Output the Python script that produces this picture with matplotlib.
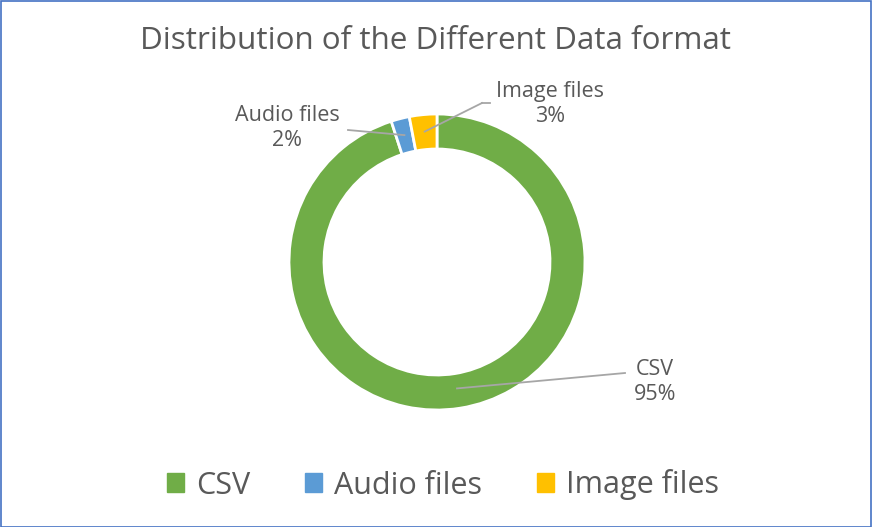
import numpy as np
import matplotlib
matplotlib.use("Agg")
import matplotlib.pyplot as plt
from matplotlib.patches import Rectangle

labels = ["CSV", "Audio files", "Image files"]
shares = [95, 2, 3]
colors = ["#70AD47", "#5B9BD5", "#FFC000"]
title = "Distribution of the Different Data format"

plt.rcParams["font.family"] = ["Open Sans", "DejaVu Sans"]
txt = "#595959"

W, H = 872, 527
fig = plt.figure(figsize=(W / 100, H / 100), dpi=100)
ax = fig.add_axes([0, 0, 1, 1])

cx, cy, r = 437, H - 262, 148
wedges, _ = ax.pie(shares, colors=colors, startangle=90, counterclock=False,
                   center=(cx, cy), radius=r, frame=True,
                   wedgeprops=dict(width=35, edgecolor="white", linewidth=2))
ax.set_xlim(0, W)
ax.set_ylim(0, H)
ax.set_aspect("equal")
ax.axis("off")

# data labels with leader lines (label box positions in pixels)
label_pos = {"CSV": (655, H - 382), "Audio files": (287, H - 128),
             "Image files": (550, H - 104)}
elbow = {"CSV": (625, H - 373), "Audio files": (348, H - 130),
         "Image files": (482, H - 103)}
for w, lab, s in zip(wedges, labels, shares):
    ang = np.deg2rad((w.theta1 + w.theta2) / 2)
    rr = r - 17 if lab != "CSV" else r - 20
    px, py = cx + rr * np.cos(ang), cy + rr * np.sin(ang)
    ex, ey = elbow[lab]
    ax.plot([px, ex], [py, ey], color="#A6A6A6", lw=1.3)
    if lab == "Image files":
        ax.plot([ex, ex + 8], [ey, ey], color="#A6A6A6", lw=1.3)
    tx, ty = label_pos[lab]
    ax.text(tx, ty, f"{lab}\n{s}%", ha="center", va="center",
            fontsize=15.5, color=txt, linespacing=1.3)

ax.text(W / 2 - 1, H - 41, title, ha="center", va="center", fontsize=22.6,
        color=txt)

handles = [Rectangle((0, 0), 1, 1, color=c) for c in colors]
fig.legend(handles, labels, loc="center",
           bbox_to_anchor=(0.5 + 7 / W, 1 - 485 / H),
           ncol=3, frameon=False, fontsize=22, labelcolor=txt,
           handlelength=0.55, handleheight=0.55, handletextpad=0.4,
           columnspacing=1.8)

fig.patches.append(Rectangle((0.5 / W, 0.5 / H), 1 - 1.5 / W, 1 - 1.5 / H,
                             transform=fig.transFigure, fill=False,
                             edgecolor="#4472C4", lw=1.2))

fig.savefig("out.png", dpi=100)
